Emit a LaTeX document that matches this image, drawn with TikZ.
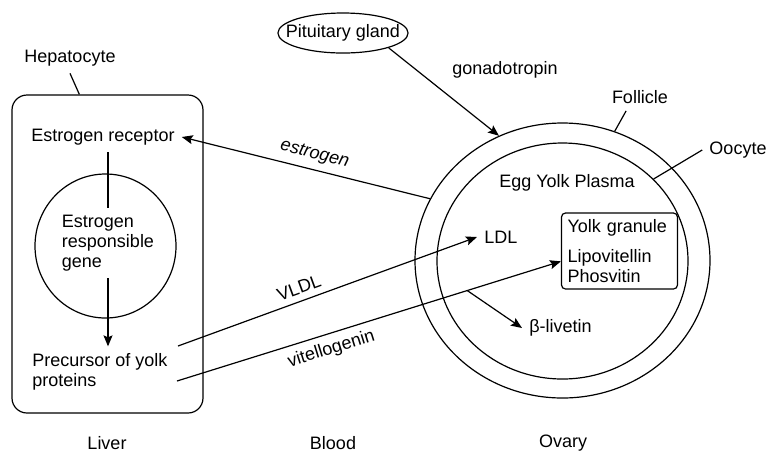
\documentclass[tikz,border=0pt]{standalone}
\usepackage{fontspec}
\setmainfont{Liberation Sans}
\usetikzlibrary{arrows.meta, positioning, shapes.geometric, calc}

\begin{document}
\begin{tikzpicture}[->, >={Stealth[length=5.5pt, width=4.5pt, inset=1pt]}, auto, semithick, x=0.5pt, y=-0.5pt, font=\fontsize{9}{10}\selectfont]
        \tikzstyle{organ}=[draw=black, fill=white, rounded corners=7.5pt]
        \tikzstyle{cell}=[draw=black, ellipse]
        \useasboundingbox (0,0) rectangle (766,452);

        % liver side
        \node[organ, minimum width=95.5pt, minimum height=159pt] (liver) at (107.5,254) {};
        \node (hep) at (70,58) {Hepatocyte};
        \node (rec) at (103,137) {Estrogen receptor};
        \node[cell, minimum width=70.5pt, minimum height=72pt] (gene) at (105.5,246) {};
        \node[align=left] (gtxt) at (108,243) {Estrogen\\responsible\\gene};
        \node[align=left, anchor=west] (pre) at (25,372) {Precursor of yolk\\proteins};
        \coordinate (vl) at (178,346);
        \coordinate (vt) at (177,381);

        % ovary side
        \node[cell, inner xsep=-5.5pt, inner ysep=0pt, minimum height=20pt] (pit) at (343,33) {Pituitary gland};
        \node (gon) at (505,70) {gonadotropin};
        \node (fl) at (640,97) {Follicle};
        \node (oc) at (738,150) {Oocyte};
        \node[cell, minimum width=147.5pt, minimum height=137.5pt] (fol) at (562.5,260.5) {};
        \node[cell, minimum width=125.5pt, minimum height=118pt] (oo) at (562.5,261) {};
        \node (eyp) at (567,183) {Egg Yolk Plasma};
        \node[anchor=west] (ldl) at (477,237) {LDL};
        \node[draw, rounded corners=2pt, align=left, text width=52pt, inner sep=3pt, minimum height=38pt] (yolk) at (619.5,251) {Yolk granule\\[5pt]Lipovitellin\\Phosvitin};
        \node[anchor=west] (beta) at (522,328) {β-livetin};

        % bottom row
        \node (liv) at (107,443) {Liver};
        \node (bld) at (333,443) {Blood};
        \node (ova) at (563,443) {Ovary};

        \path (gtxt.north |- rec.south) edge [-] (gtxt.north)
              (gtxt.south) edge (gtxt.south |- pre.north)
              (fol.155) edge node[sloped, above, pos=0.48] {\itshape estrogen} (rec.east)
              (vl) edge node[sloped, above, pos=0.42] {VLDL} (ldl.west)
              (vt) edge node[sloped, below, pos=0.39] {vitellogenin} (yolk.190)
              ($(vt)!0.756!(yolk.190)$) edge (beta.west)
              (pit.-18) edge (fol.117)
              (hep.south) edge [-] (liver.100) % leader lines
              (fl.-135) edge [-] (fol.68)
              (oc.west) edge [-] (oo.42);
\end{tikzpicture}
\end{document}
